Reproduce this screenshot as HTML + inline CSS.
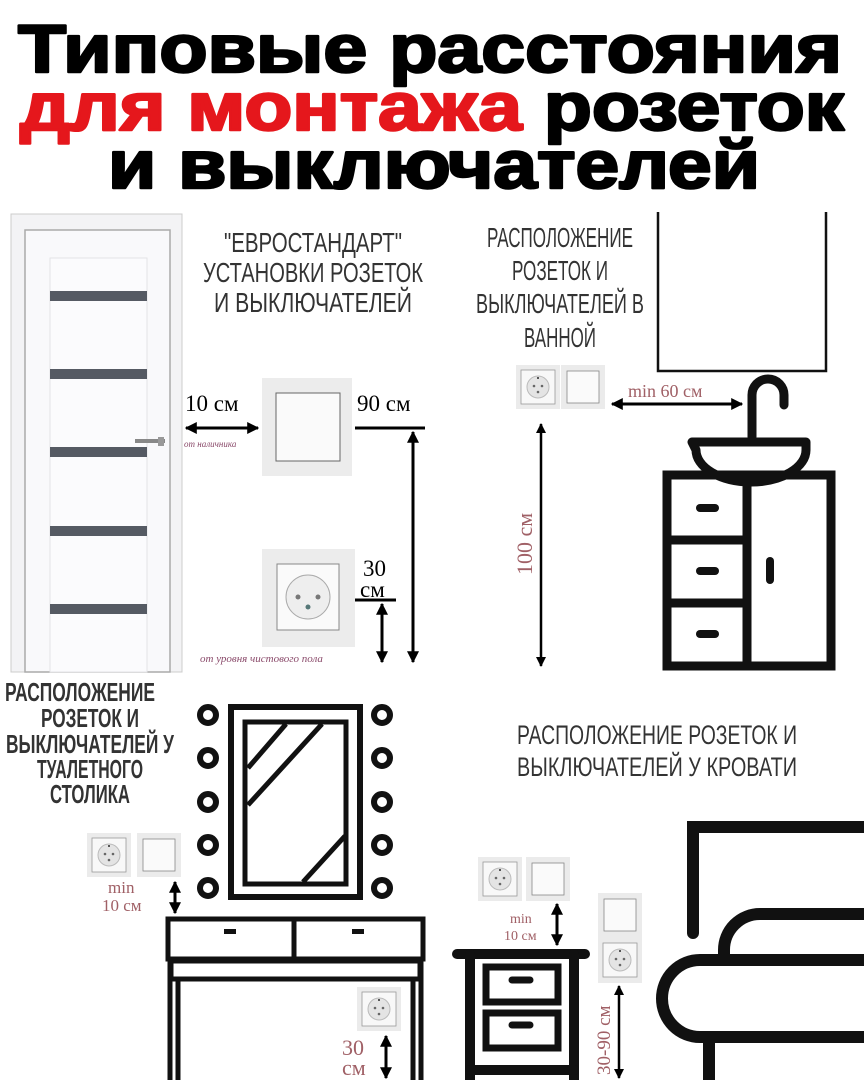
<!DOCTYPE html>
<html><head><meta charset="utf-8"><style>
html,body{margin:0;padding:0;background:#fff;}
svg{display:block}
.t{font-family:"Liberation Sans","DejaVu Sans",sans-serif;font-weight:bold;}
.c{font-family:"Liberation Sans",sans-serif;fill:#333;}
.s{font-family:"Liberation Serif",serif;}
</style></head><body>
<svg width="864" height="1080" viewBox="0 0 864 1080" xmlns="http://www.w3.org/2000/svg">
<defs>
<g id="sock">
<rect x="0" y="0" width="44" height="44" fill="#ebebeb"/>
<rect x="5" y="5" width="34" height="34" fill="#f8f8f8" stroke="#999" stroke-width="0.8"/>
<circle cx="22" cy="22" r="11" fill="#e4e4e4" stroke="#bbb"/>
<circle cx="18" cy="21" r="1.3" fill="#666"/><circle cx="26" cy="21" r="1.3" fill="#666"/>
<circle cx="22" cy="27" r="1.3" fill="#666"/><rect x="21" y="12" width="2" height="2" fill="#555"/>
</g>
<g id="sw">
<rect x="0" y="0" width="44" height="44" fill="#ebebeb"/>
<rect x="6" y="6" width="32" height="32" fill="#fafafa" stroke="#888" stroke-width="0.8"/>
</g>
<marker id="a" viewBox="0 0 10 10" refX="9" refY="5" markerWidth="4" markerHeight="4" orient="auto-start-reverse"><path d="M0 0L10 5L0 10z" fill="#000"/></marker>
</defs>

<!-- Title -->
<g stroke-width="2.5" stroke-linejoin="round">
<text class="t" x="18" y="72" font-size="68" textLength="824" lengthAdjust="spacingAndGlyphs" stroke="#000">Типовые расстояния</text>
<text class="t" x="20" y="130" font-size="68" textLength="824" lengthAdjust="spacingAndGlyphs"><tspan fill="#e5171c" stroke="#e5171c">для монтажа</tspan><tspan stroke="#000"> розеток</tspan></text>
<text class="t" x="108" y="188" font-size="68" textLength="652" lengthAdjust="spacingAndGlyphs" stroke="#000">и выключателей</text>
</g>

<!-- Door -->
<rect x="11" y="214" width="171" height="458" fill="#f3f3f5" stroke="#ccc"/>
<rect x="25" y="230" width="145" height="442" fill="#f9f9fb" stroke="#aaa" stroke-width="1.5"/>
<rect x="50" y="258" width="97" height="414" fill="#fbfbfd" stroke="#e3e3e6"/>
<g fill="#555a63">
<rect x="50" y="291" width="97" height="10"/><rect x="50" y="369" width="97" height="10"/>
<rect x="50" y="447" width="97" height="10"/><rect x="50" y="526" width="97" height="10"/>
<rect x="50" y="604" width="97" height="10"/></g>
<rect x="135" y="439" width="30" height="4" fill="#888"/><rect x="158" y="437" width="6" height="9" fill="#999"/>

<g class="c" font-size="28" text-anchor="middle">
<text x="313" y="252" textLength="178" lengthAdjust="spacingAndGlyphs">"ЕВРОСТАНДАРТ"</text>
<text x="313" y="282" textLength="220" lengthAdjust="spacingAndGlyphs">УСТАНОВКИ РОЗЕТОК</text>
<text x="313" y="312" textLength="198" lengthAdjust="spacingAndGlyphs">И ВЫКЛЮЧАТЕЛЕЙ</text>
</g>
<rect x="262" y="378" width="90" height="98" fill="#ececec"/>
<rect x="276" y="393" width="64" height="68" fill="#fafafa" stroke="#666"/>
<text class="s" x="185" y="411" font-size="23">10 см</text>
<line x1="186" y1="428" x2="258" y2="428" stroke="#000" stroke-width="3" marker-start="url(#a)" marker-end="url(#a)"/>
<text class="s" x="184" y="447" font-size="9" font-style="italic" fill="#8a4a6a">от наличника</text>
<text class="s" x="357" y="411" font-size="23">90 см</text>
<line x1="355" y1="428" x2="425" y2="428" stroke="#000" stroke-width="3"/>
<line x1="413" y1="432" x2="413" y2="662" stroke="#000" stroke-width="3" marker-start="url(#a)" marker-end="url(#a)"/>
<rect x="262" y="549" width="93" height="98" fill="#ececec"/>
<rect x="277" y="564" width="62" height="66" fill="#fafafa" stroke="#888"/>
<circle cx="308" cy="597" r="22" fill="#eee" stroke="#aaa"/>
<circle cx="298" cy="597" r="2.5" fill="#777"/><circle cx="318" cy="597" r="2.5" fill="#777"/><circle cx="308" cy="607" r="2.5" fill="#577"/>
<text class="s" x="363" y="576" font-size="23">30</text><text class="s" x="360" y="597" font-size="23">см</text>
<line x1="355" y1="600" x2="396" y2="600" stroke="#000" stroke-width="3"/>
<line x1="382" y1="604" x2="382" y2="662" stroke="#000" stroke-width="3" marker-start="url(#a)" marker-end="url(#a)"/>
<text class="s" x="200" y="662" font-size="11" font-style="italic" fill="#8a4a6a">от уровня чистового пола</text>

<!-- Bath -->
<g class="c" font-size="28" text-anchor="middle">
<text x="560" y="247" textLength="146" lengthAdjust="spacingAndGlyphs">РАСПОЛОЖЕНИЕ</text>
<text x="560" y="280" textLength="96" lengthAdjust="spacingAndGlyphs">РОЗЕТОК И</text>
<text x="560" y="313" textLength="168" lengthAdjust="spacingAndGlyphs">ВЫКЛЮЧАТЕЛЕЙ В</text>
<text x="560" y="347" textLength="72" lengthAdjust="spacingAndGlyphs">ВАННОЙ</text>
</g>
<path d="M658 212V371H826V212" fill="none" stroke="#111" stroke-width="2.5"/>
<use href="#sock" x="516" y="365"/><use href="#sw" x="561" y="365"/>
<text class="s" x="628" y="397" font-size="18" fill="#a06066">min 60 см</text>
<line x1="612" y1="404" x2="742" y2="404" stroke="#000" stroke-width="3" marker-start="url(#a)" marker-end="url(#a)"/>
<line x1="541" y1="424" x2="541" y2="666" stroke="#000" stroke-width="2.5" marker-start="url(#a)" marker-end="url(#a)"/>
<text class="s" x="0" y="0" font-size="22" fill="#a06066" transform="translate(532,575) rotate(-90)">100 см</text>
<path d="M752 437V395a16 16 0 0 1 32 0v10" fill="none" stroke="#111" stroke-width="9" stroke-linecap="round"/>
<path d="M692 442H806v8a55 32 0 0 1-110 0z" fill="none" stroke="#111" stroke-width="9" stroke-linejoin="round"/>
<g fill="none" stroke="#111" stroke-width="9">
<rect x="667" y="475" width="164" height="191"/>
<line x1="747" y1="475" x2="747" y2="666"/>
<line x1="667" y1="540" x2="747" y2="540"/><line x1="667" y1="603" x2="747" y2="603"/>
</g>
<g stroke="#111" stroke-width="8" stroke-linecap="round">
<line x1="700" y1="508" x2="715" y2="508"/><line x1="700" y1="571" x2="715" y2="571"/><line x1="700" y1="634" x2="715" y2="634"/>
<line x1="770" y1="561" x2="770" y2="580"/></g>

<!-- Vanity -->
<g class="t" font-size="26" fill="#333" text-anchor="middle">
<text x="80" y="701" textLength="150" lengthAdjust="spacingAndGlyphs">РАСПОЛОЖЕНИЕ</text>
<text x="90" y="727" textLength="98" lengthAdjust="spacingAndGlyphs">РОЗЕТОК И</text>
<text x="90" y="753" textLength="168" lengthAdjust="spacingAndGlyphs">ВЫКЛЮЧАТЕЛЕЙ У</text>
<text x="90" y="778" textLength="106" lengthAdjust="spacingAndGlyphs">ТУАЛЕТНОГО</text>
<text x="90" y="803" textLength="80" lengthAdjust="spacingAndGlyphs">СТОЛИКА</text>
</g>
<g fill="none" stroke="#111">
<rect x="231" y="707" width="129" height="190" stroke-width="6"/>
<rect x="245" y="722" width="101" height="162" stroke-width="5"/>
<g stroke-width="5"><line x1="248" y1="768" x2="286" y2="724"/><line x1="248" y1="805" x2="322" y2="724"/><line x1="303" y1="882" x2="345" y2="836"/></g>
<g stroke-width="6">
<circle cx="208" cy="715" r="8"/><circle cx="208" cy="758" r="8"/><circle cx="208" cy="802" r="8"/><circle cx="208" cy="845" r="8"/><circle cx="208" cy="888" r="8"/>
<circle cx="382" cy="715" r="8"/><circle cx="382" cy="758" r="8"/><circle cx="382" cy="802" r="8"/><circle cx="382" cy="845" r="8"/><circle cx="382" cy="888" r="8"/></g>
</g>
<use href="#sock" x="87" y="833"/><use href="#sw" x="137" y="833"/>
<text class="s" x="108" y="893" font-size="17" fill="#a06066">min</text>
<text class="s" x="102" y="911" font-size="17" fill="#a06066">10 см</text>
<line x1="175" y1="882" x2="175" y2="913" stroke="#000" stroke-width="3" marker-start="url(#a)" marker-end="url(#a)"/>
<g fill="none" stroke="#111" stroke-width="5">
<rect x="168" y="919" width="255" height="40"/><line x1="294" y1="919" x2="294" y2="959"/>
<rect x="171" y="961" width="249" height="18"/>
<line x1="170" y1="959" x2="170" y2="1080"/><line x1="178" y1="979" x2="178" y2="1080"/>
<line x1="421" y1="959" x2="421" y2="1080"/><line x1="413" y1="979" x2="413" y2="1080"/>
</g>
<rect x="224" y="929" width="12" height="5" fill="#111"/><rect x="352" y="929" width="12" height="5" fill="#111"/>
<use href="#sock" x="357" y="987"/>
<text class="s" x="342" y="1055" font-size="22" fill="#a06066">30</text>
<text class="s" x="342" y="1075" font-size="22" fill="#a06066">см</text>
<line x1="386" y1="1036" x2="386" y2="1078" stroke="#000" stroke-width="3" marker-start="url(#a)" marker-end="url(#a)"/>

<!-- Bed -->
<g class="c" font-size="27" text-anchor="middle">
<text x="657" y="744" textLength="280" lengthAdjust="spacingAndGlyphs">РАСПОЛОЖЕНИЕ РОЗЕТОК И</text>
<text x="657" y="776" textLength="280" lengthAdjust="spacingAndGlyphs">ВЫКЛЮЧАТЕЛЕЙ У КРОВАТИ</text>
</g>
<use href="#sock" x="478" y="857"/><use href="#sw" x="526" y="857"/>
<text class="s" x="510" y="923" font-size="14" fill="#a06066">min</text>
<text class="s" x="504" y="940" font-size="14" fill="#a06066">10 см</text>
<line x1="557" y1="904" x2="557" y2="945" stroke="#000" stroke-width="3" marker-start="url(#a)" marker-end="url(#a)"/>
<rect x="598" y="893" width="44" height="90" fill="#ebebeb"/>
<rect x="604" y="899" width="32" height="32" fill="#fafafa" stroke="#888" stroke-width="0.8"/>
<use href="#sock" x="598" y="938"/>
<line x1="619" y1="986" x2="619" y2="1078" stroke="#000" stroke-width="2.5" marker-start="url(#a)" marker-end="url(#a)"/>
<text class="s" x="0" y="0" font-size="19" fill="#a06066" transform="translate(610,1075) rotate(-90)">30-90 см</text>
<g fill="none" stroke="#111" stroke-width="10" stroke-linecap="round">
<line x1="457" y1="954" x2="585" y2="954"/>
<line x1="470" y1="954" x2="470" y2="1080"/><line x1="574" y1="954" x2="574" y2="1080"/>
<rect x="486" y="967" width="72" height="35" stroke-width="7"/>
<rect x="486" y="1013" width="72" height="35" stroke-width="7"/>
<line x1="470" y1="1070" x2="574" y2="1070"/>
</g>
<g stroke="#111" stroke-width="7" stroke-linecap="round"><line x1="512" y1="980" x2="530" y2="980"/><line x1="512" y1="1025" x2="530" y2="1025"/></g>
<g fill="none" stroke="#111" stroke-width="12">
<path d="M693 933V827H864" stroke-linecap="round"/>
<path d="M724 958V950a36 36 0 0 1 36-36H864"/>
<path d="M864 960H700a38 38.5 0 0 0 0 77H864"/>
<line x1="709" y1="1037" x2="709" y2="1080"/>
</g>
</svg>
</body></html>
